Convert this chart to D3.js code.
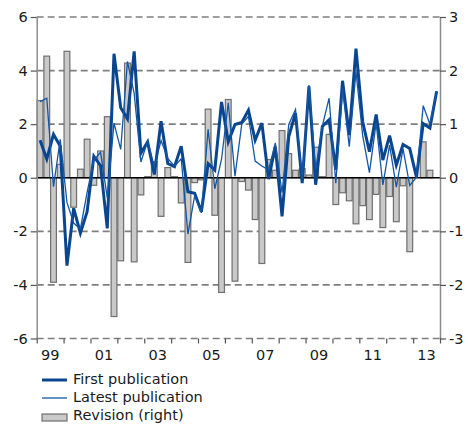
<!DOCTYPE html>
<html>
<head>
<meta charset="utf-8">
<script src="https://cdn.jsdelivr.net/npm/d3@7"></script>
<style>
  body { margin: 0; background: #fff; }
  text { font-family: "DejaVu Sans", Verdana, sans-serif; font-size: 14.5px; fill: #1a1a1a; }
</style>
</head>
<body>
<svg id="chart"></svg>
<script>
var years = [1999, 2000, 2001, 2002, 2003, 2004, 2005, 2006, 2007, 2008, 2009, 2010, 2011, 2012, 2013];
var quarters = years.flatMap(function (y) { return ["Q1", "Q2", "Q3", "Q4"].map(function (q) { return y + q; }); });

// GDP growth, first publication (left axis)
var firstPub = [
  1.40, 0.70, 1.62, 1.18, -3.28, -1.14, -2.07, -1.27,
  0.80, 0.45, -1.89, 4.63, 2.61, 2.20, 4.72, 0.91,
  1.34, 0.12, 2.11, 0.53, 0.41, 1.18, -0.52, -0.58,
  -1.27, 0.53, 0.29, 2.83, 1.34, 1.99, 2.06, 2.52,
  1.40, 2.04, -0.05, 1.16, -1.44, 1.54, 2.41, -0.20,
  3.41, -0.26, 1.92, 2.16, 0.30, 3.62, 1.59, 4.82,
  2.09, 0.97, 2.36, 0.66, 1.57, 0.47, 1.24, 1.09,
  0.02, 2.02, 1.86, 3.23
];
// latest publication (left axis)
var latestPub = [
  2.84, 2.97, -0.33, 1.43, -0.92, -1.69, -1.91, -0.55,
  0.66, 0.95, -0.75, 2.04, 1.06, 4.34, 3.15, 0.59,
  1.36, 0.42, 1.39, 0.72, 0.43, 0.71, -2.10, -0.67,
  -1.31, 1.81, -0.41, 0.69, 2.80, 0.06, 1.99, 2.29,
  0.62, 0.44, 0.29, 1.30, -0.56, 1.99, 2.55, -0.03,
  3.46, 0.31, 1.94, 2.97, -0.20, 3.34, 1.16, 3.96,
  1.57, 0.19, 2.05, -0.27, 1.22, -0.35, 1.09, -0.29,
  0.02, 2.69, 2.00, 3.23
];
// revision (right axis)
var revision = [
  1.44, 2.27, -1.95, 0.25, 2.36, -0.55, 0.16, 0.72,
  -0.14, 0.50, 1.14, -2.59, -1.55, 2.14, -1.57, -0.32,
  0.02, 0.30, -0.72, 0.19, 0.02, -0.47, -1.58, -0.09,
  -0.04, 1.28, -0.70, -2.14, 1.46, -1.93, -0.07, -0.23,
  -0.78, -1.60, 0.34, 0.14, 0.88, 0.45, 0.14, 0.17,
  0.05, 0.57, 0.02, 0.81, -0.50, -0.28, -0.43, -0.86,
  -0.52, -0.78, -0.31, -0.93, -0.35, -0.82, -0.15, -1.38,
  0.00, 0.67, 0.14, 0.00
];
var yearLabels = ["99", "01", "03", "05", "07", "09", "11", "13"];
var leftTicks = [-6, -4, -2, 0, 2, 4, 6];
var rightTicks = [-3, -2, -1, 0, 1, 2, 3];

var W = 468, H = 426;
var plotL = 36.7, plotR = 440, plotT = 17, plotB = 338.5;
var blue = "#0a4690";
var blueThin = "#1356a3";

var svg = d3.select("#chart").attr("width", W).attr("height", H);

var x = d3.scaleBand().domain(quarters).range([plotL, plotR])
  .paddingInner(0.14).paddingOuter(0.07);
var xYear = d3.scaleLinear().domain([1999, 2014]).range([plotL, plotR]);
var yL = d3.scaleLinear().domain([-6, 6]).range([plotB, plotT]);
var yR = d3.scaleLinear().domain([-3, 3]).range([plotB, plotT]);

// dashed grid
svg.append("g").selectAll("line")
  .data(leftTicks.filter(function (t) { return t !== 0; }))
  .enter().append("line")
  .attr("x1", plotL).attr("x2", plotR)
  .attr("y1", function (d) { return yL(d); })
  .attr("y2", function (d) { return yL(d); })
  .attr("stroke", "#7f7f7f").attr("stroke-width", 1.6)
  .attr("stroke-dasharray", "7,4");

// revision bars
svg.append("g").selectAll("rect")
  .data(revision)
  .enter().append("rect")
  .attr("x", function (d, i) { return x(quarters[i]); })
  .attr("width", x.bandwidth())
  .attr("y", function (d) { return yR(Math.max(0, d)); })
  .attr("height", function (d) { return Math.abs(yR(d) - yR(0)); })
  .attr("fill", "#c9c9c9")
  .attr("stroke", "#6f6f6f").attr("stroke-width", 1.2);

// zero line
svg.append("line")
  .attr("x1", plotL).attr("x2", plotR)
  .attr("y1", yL(0)).attr("y2", yL(0))
  .attr("stroke", "#000").attr("stroke-width", 1.6);

// axes
function styleAxis(g) {
  g.select(".domain").attr("stroke", "#8c8c8c").attr("stroke-width", 1.5);
  g.selectAll(".tick line").attr("stroke", "#555").attr("stroke-width", 1.2);
  g.attr("font-size", null).attr("font-family", null);
}
var plain = function (d) { return String(d); };

svg.append("g")
  .attr("transform", "translate(" + plotL + ",0)")
  .call(d3.axisLeft(yL).tickValues(leftTicks).tickFormat(plain)
    .tickSize(6).tickSizeOuter(0).tickPadding(3))
  .call(styleAxis);

svg.append("g")
  .attr("transform", "translate(" + plotR + ",0)")
  .call(d3.axisRight(yR).tickValues(rightTicks).tickFormat(plain)
    .tickSize(6).tickSizeOuter(0).tickPadding(3))
  .call(styleAxis);

var xAxis = svg.append("g")
  .attr("transform", "translate(0," + plotB + ")")
  .call(d3.axisBottom(xYear).tickValues(d3.range(1999, 2015)).tickSize(5).tickFormat(""))
  .call(styleAxis);
xAxis.select(".domain").remove();

svg.append("g").selectAll("text")
  .data(yearLabels)
  .enter().append("text")
  .attr("x", function (d, i) { return xYear(1999 + 2 * i + 0.5); })
  .attr("y", plotB + 21)
  .attr("text-anchor", "middle")
  .text(function (d) { return d; });

// lines
var line = d3.line()
  .x(function (d, i) { return x(quarters[i]) + x.bandwidth() / 2; })
  .y(function (d) { return yL(d); });

svg.append("path").datum(firstPub)
  .attr("d", line).attr("fill", "none")
  .attr("stroke", blue).attr("stroke-width", 3);

svg.append("path").datum(latestPub)
  .attr("d", line).attr("fill", "none")
  .attr("stroke", blueThin).attr("stroke-width", 1.3);

// legend
var lg = svg.append("g");
lg.append("line").attr("x1", 42).attr("x2", 67).attr("y1", 380).attr("y2", 380)
  .attr("stroke", blue).attr("stroke-width", 3);
lg.append("text").attr("x", 73).attr("y", 384).text("First publication");
lg.append("line").attr("x1", 42).attr("x2", 67).attr("y1", 398).attr("y2", 398)
  .attr("stroke", blueThin).attr("stroke-width", 1.3);
lg.append("text").attr("x", 73).attr("y", 402).text("Latest publication");
lg.append("rect").attr("x", 42).attr("y", 414).attr("width", 25).attr("height", 7)
  .attr("fill", "#c9c9c9").attr("stroke", "#6f6f6f").attr("stroke-width", 1.2);
lg.append("text").attr("x", 73).attr("y", 420).text("Revision (right)");
</script>
</body>
</html>
